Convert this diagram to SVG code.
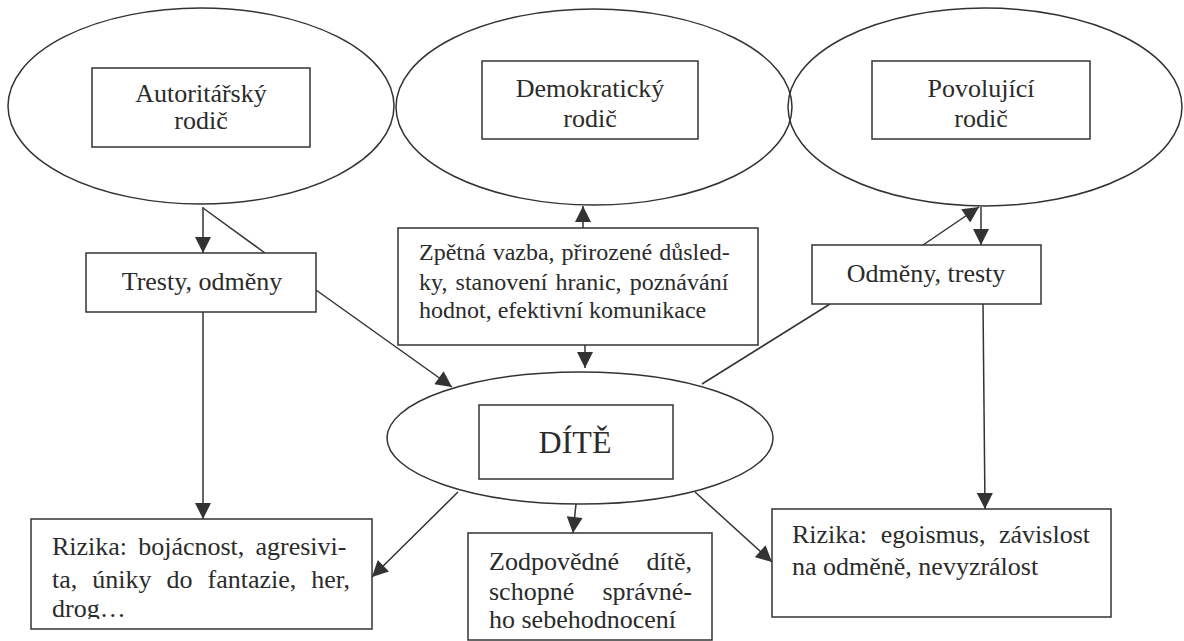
<svg xmlns="http://www.w3.org/2000/svg" width="1184" height="641" viewBox="0 0 1184 641">
<style>
.ell{fill:none;stroke:#333;stroke-width:1.5}
.box{fill:#fff;stroke:#333;stroke-width:1.5}
.t{font-family:"Liberation Serif","Times New Roman",serif;font-size:26px;fill:#2b2b2b}
.s{font-size:24px}
.c{text-anchor:middle}
.big{font-size:32px}
.ln{fill:none;stroke:#333;stroke-width:1.5}
.ar{marker-end:url(#ah)}
</style>
<defs>
<marker id="ah" viewBox="0 0 10 10" refX="10" refY="5" markerWidth="17" markerHeight="16" markerUnits="userSpaceOnUse" orient="auto">
<path d="M0,0 L10,5 L0,10 z" fill="#333"/>
</marker>
<clipPath id="clipL"><rect x="31" y="519" width="341" height="100"/></clipPath>
</defs>
<rect width="1184" height="641" fill="#fff"/>

<g id="connectors">
<line class="ln ar" x1="203" y1="207" x2="203" y2="253"/>
<line class="ln" x1="203" y1="208" x2="265" y2="253"/>
<line class="ln ar" x1="316" y1="290" x2="452" y2="387"/>
<line class="ln ar" x1="203" y1="312" x2="203" y2="519"/>
<line class="ln ar" x1="458" y1="492" x2="372" y2="577"/>
<line class="ln ar" x1="583" y1="228" x2="583" y2="206"/>
<line class="ln ar" x1="585" y1="345" x2="585" y2="368"/>
<line class="ln ar" x1="576" y1="504" x2="573" y2="533"/>
<line class="ln ar" x1="695" y1="492" x2="772" y2="562"/>
<line class="ln ar" x1="981" y1="207" x2="981" y2="245"/>
<line class="ln ar" x1="923" y1="245" x2="979" y2="207"/>
<line class="ln" x1="830" y1="304" x2="702" y2="384"/>
<line class="ln ar" x1="983" y1="304" x2="985" y2="509"/>
</g>

<g id="autoritarsky">
<ellipse class="ell" cx="201" cy="106" rx="193" ry="98"/>
<rect class="box" x="92" y="68" width="218" height="79"/>
<text class="t c" x="201" y="102">Autoritářský</text>
<text class="t c" x="201" y="129">rodič</text>
</g>

<g id="demokraticky">
<ellipse class="ell" cx="594" cy="107" rx="198" ry="98"/>
<rect class="box" x="482" y="61" width="216" height="78"/>
<text class="t c" x="590" y="97">Demokratický</text>
<text class="t c" x="590" y="127">rodič</text>
</g>

<g id="povolujici">
<ellipse class="ell" cx="985" cy="107" rx="197" ry="99"/>
<rect class="box" x="872" y="61" width="218" height="78"/>
<text class="t c" x="981" y="97">Povolující</text>
<text class="t c" x="981" y="127">rodič</text>
</g>

<g id="tresty">
<rect class="box" x="86" y="253" width="230" height="59"/>
<text class="t c" x="202" y="290">Tresty, odměny</text>
</g>

<g id="odmeny">
<rect class="box" x="812" y="245" width="229" height="59"/>
<text class="t c" x="926" y="282">Odměny, tresty</text>
</g>

<g id="zpetna">
<rect class="box" x="398" y="228" width="360" height="117"/>
<text class="t s" x="419" y="260" word-spacing="1">Zpětná vazba, přirozené důsled-</text>
<text class="t s" x="419" y="290" word-spacing="2.1">ky, stanovení hranic, poznávání</text>
<text class="t s" x="419" y="318">hodnot, efektivní komunikace</text>
</g>

<g id="dite">
<ellipse class="ell" cx="580" cy="438" rx="193" ry="66"/>
<rect class="box" x="479" y="405" width="194" height="74"/>
<text class="t c big" x="575" y="453">DÍTĚ</text>
</g>

<g id="rizika-left">
<rect class="box" x="31" y="519" width="341" height="110"/>
<g clip-path="url(#clipL)">
<text class="t" x="52" y="555" word-spacing="4.6">Rizika: bojácnost, agresivi-</text>
<text class="t" x="52" y="588" word-spacing="8.5">ta, úniky do fantazie, her,</text>
<text class="t" x="52" y="617">drog…</text>
</g>
</g>

<g id="zodpovedne">
<rect class="box" x="468" y="533" width="244" height="107"/>
<text class="t" x="489" y="570" word-spacing="21">Zodpovědné dítě,</text>
<text class="t" x="489" y="600" word-spacing="21.8">schopné správné-</text>
<text class="t" x="489" y="628">ho sebehodnocení</text>
</g>

<g id="rizika-right">
<rect class="box" x="772" y="509" width="339" height="108"/>
<text class="t" x="792" y="543" word-spacing="7.1">Rizika: egoismus, závislost</text>
<text class="t" x="792" y="575">na odměně, nevyzrálost</text>
</g>
</svg>
